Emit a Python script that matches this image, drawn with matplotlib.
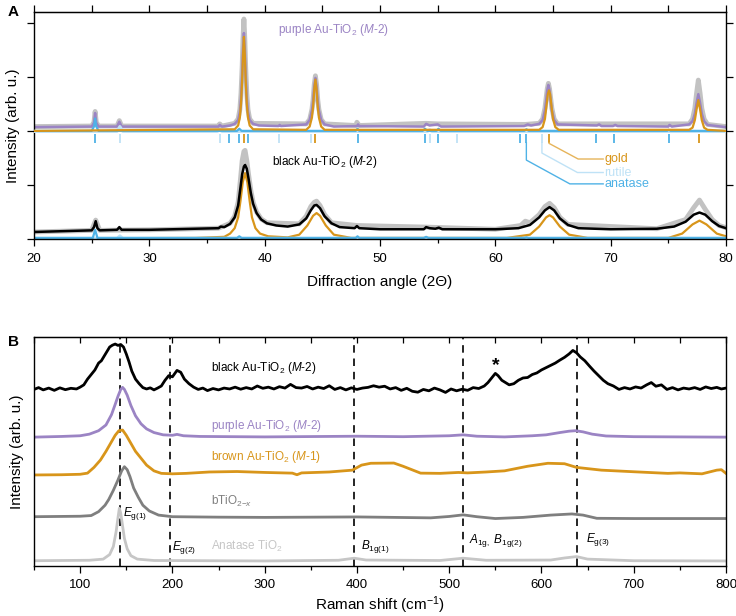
import matplotlib
matplotlib.use("Agg")
import matplotlib.pyplot as plt
from matplotlib.ticker import MultipleLocator

plt.rcParams['font.family'] = ['Liberation Sans', 'DejaVu Sans']
plt.rcParams['mathtext.fontset'] = 'custom'
plt.rcParams['mathtext.rm'] = 'Liberation Sans'
plt.rcParams['mathtext.it'] = 'Liberation Sans:italic'
plt.rcParams['mathtext.bf'] = 'Liberation Sans:bold'

# colours
C_PURPLE = '#9b84c4'
C_GOLD = '#d8951a'
C_ANA = '#4fb2e6'
C_RUT = '#bfe2f6'
C_RAW = '#c2c2c2'
C_DGRAY = '#7f7f7f'
C_LGRAY = '#c6c6c6'

# ---------------- panel A : XRD ----------------
# purple Au-TiO2 (M-2), fit
pur_x = [20, 25.0, 25.2, 25.3, 25.4, 25.6, 27.2, 27.4, 27.6, 36.0, 36.1, 36.3, 37.0,
         37.4, 37.7, 37.85, 37.95, 38.05, 38.12, 38.2, 38.28, 38.35, 38.45, 38.55, 38.7, 39.0,
         39.5, 41.2, 41.3, 41.4,
         43.6, 43.9, 44.1, 44.2, 44.3, 44.4, 44.5, 44.6, 44.7, 44.9, 45.2,
         46, 48.0, 48.1, 48.2, 53.8, 54.0, 54.3, 55.0, 55.3, 62.5, 62.8, 63.1,
         63.8, 64.1, 64.3, 64.4, 64.5, 64.6, 64.7, 64.8, 64.9, 65.1, 65.4,
         68.8, 69.0, 69.2, 70.2, 70.4, 70.6, 75.0, 75.1, 75.3,
         76.8, 77.1, 77.3, 77.45, 77.6, 77.75, 77.9, 78.1, 78.4, 80]
pur_y = [2.07, 2.08, 2.15, 2.33, 2.15, 2.08, 2.08, 2.17, 2.08, 2.08, 2.11, 2.08, 2.10,
         2.13, 2.20, 2.35, 2.60, 3.05, 3.50, 3.81, 3.50, 3.05, 2.60, 2.35, 2.20, 2.13,
         2.10, 2.09, 2.11, 2.09,
         2.12, 2.20, 2.38, 2.55, 2.82, 2.98, 2.82, 2.55, 2.38, 2.20, 2.12,
         2.08, 2.09, 2.12, 2.09, 2.08, 2.13, 2.10, 2.12, 2.08, 2.09, 2.12, 2.10,
         2.13, 2.20, 2.38, 2.55, 2.75, 2.85, 2.75, 2.55, 2.38, 2.20, 2.12,
         2.10, 2.12, 2.09, 2.09, 2.11, 2.09, 2.08, 2.11, 2.08,
         2.12, 2.18, 2.32, 2.52, 2.68, 2.52, 2.32, 2.18, 2.11, 2.07]
# purple, measured (grey band)
pur_raw_x = [20, 25.0, 25.2, 25.3, 25.4, 25.6, 27.2, 27.4, 27.6, 36.0, 36.1, 36.3,
             37.4, 37.7, 37.85, 37.95, 38.05, 38.12, 38.2, 38.28, 38.35, 38.45, 38.55, 38.7, 39.0,
             43.6, 43.9, 44.1, 44.2, 44.3, 44.4, 44.5, 44.6, 44.7, 44.9, 45.2,
             47.9, 48.0, 48.2, 54.0, 55.0, 62.6,
             63.8, 64.1, 64.3, 64.4, 64.5, 64.6, 64.7, 64.8, 64.9, 65.1, 65.4,
             76.8, 77.1, 77.3, 77.45, 77.6, 77.75, 77.9, 78.1, 78.4, 80]
pur_raw_y = [2.08, 2.09, 2.16, 2.36, 2.16, 2.09, 2.09, 2.19, 2.09, 2.09, 2.13, 2.09,
             2.14, 2.22, 2.40, 2.70, 3.20, 3.70, 4.07, 3.70, 3.20, 2.70, 2.40, 2.22, 2.14,
             2.13, 2.21, 2.40, 2.58, 2.86, 3.02, 2.86, 2.58, 2.40, 2.21, 2.13,
             2.10, 2.16, 2.10, 2.14, 2.13, 2.12,
             2.14, 2.22, 2.42, 2.60, 2.78, 2.88, 2.78, 2.60, 2.42, 2.22, 2.13,
             2.13, 2.22, 2.42, 2.70, 2.94, 2.70, 2.42, 2.22, 2.12, 2.08]
gold_top_x = [20, 37.4, 37.7, 37.85, 37.95, 38.05, 38.12, 38.2, 38.28, 38.35, 38.45, 38.55, 38.7, 39.0,
              43.6, 43.9, 44.1, 44.2, 44.3, 44.4, 44.5, 44.6, 44.7, 44.9, 45.2,
              63.8, 64.1, 64.3, 64.4, 64.55, 64.65, 64.75, 64.9, 65.0, 65.2, 65.5,
              76.8, 77.1, 77.3, 77.45, 77.6, 77.75, 77.9, 78.1, 78.4, 80]
gold_top_y = [2.0, 2.03, 2.10, 2.25, 2.50, 2.95, 3.40, 3.74, 3.40, 2.95, 2.50, 2.25, 2.10, 2.03,
              2.02, 2.08, 2.25, 2.45, 2.77, 2.95, 2.77, 2.45, 2.25, 2.08, 2.02,
              2.02, 2.07, 2.22, 2.40, 2.68, 2.75, 2.68, 2.40, 2.22, 2.07, 2.02,
              2.02, 2.06, 2.20, 2.40, 2.57, 2.40, 2.20, 2.06, 2.02, 2.0]
ana_top_x = [20, 25.0, 25.2, 25.3, 25.4, 25.6, 37.6, 37.8, 38.0, 47.9, 48.05, 48.2, 53.7, 53.9, 54.1,
             54.9, 55.07, 55.25, 62.5, 62.7, 62.9, 74.9, 75.03, 75.2, 80]
ana_top_y = [2.0, 2.0, 2.08, 2.23, 2.08, 2.0, 2.0, 2.04, 2.0, 2.0, 2.04, 2.0, 2.0, 2.04, 2.0,
             2.0, 2.04, 2.0, 2.0, 2.03, 2.0, 2.0, 2.02, 2.0, 2.0]
rut_top_x = [20, 27.2, 27.45, 27.7, 35.9, 36.09, 36.3, 54.1, 54.32, 54.5, 80]
rut_top_y = [1.99, 1.99, 2.08, 1.99, 1.99, 2.03, 1.99, 1.99, 2.02, 1.99, 1.99]

# black Au-TiO2 (M-2), fit
blk_x = [20, 25.0, 25.2, 25.35, 25.5, 25.7, 27.2, 27.4, 27.6, 30, 34, 36, 36.2, 36.5,
         37.0, 37.4, 37.7, 37.9, 38.05, 38.2, 38.3, 38.45, 38.6, 38.8, 39.0, 39.3, 39.7, 40.2,
         41, 42, 43, 43.6, 44.0, 44.3, 44.5, 44.8, 45.2, 45.8,
         46.5, 47.8, 48.0, 48.2, 50, 53.8, 54.0, 54.3, 54.8, 55.1, 55.4, 60, 62, 63.0, 63.8, 64.3, 64.7,
         65.1, 65.6, 66.3, 67.2, 70, 74, 75.5, 76.5, 77.2, 77.7, 78.2, 78.8, 79.4, 80]
blk_y = [0.13, 0.16, 0.22, 0.33, 0.20, 0.16, 0.17, 0.22, 0.17, 0.17, 0.19, 0.20, 0.23, 0.22,
         0.28, 0.40, 0.62, 0.95, 1.20, 1.34, 1.37, 1.30, 1.12, 0.85, 0.65, 0.48, 0.36, 0.29,
         0.25, 0.23, 0.27, 0.38, 0.53, 0.62, 0.63, 0.57, 0.42, 0.29,
         0.22, 0.20, 0.24, 0.20, 0.18, 0.18, 0.22, 0.20, 0.19, 0.21, 0.18, 0.18, 0.20, 0.26, 0.40, 0.53, 0.59,
         0.53, 0.38, 0.26, 0.20, 0.18, 0.19, 0.23, 0.32, 0.45, 0.49, 0.45, 0.33, 0.24, 0.20]
blk_raw_x = [20, 25.0, 25.35, 25.7, 30, 36, 37.0, 37.4, 37.7, 37.9, 38.05, 38.2, 38.3, 38.45, 38.6,
             38.8, 39.0, 39.3, 39.7, 40.2,
             43, 43.6, 44.0, 44.3, 44.5, 44.8, 45.2, 45.8, 48.0, 54.0, 60, 62.2, 62.6, 63.0, 63.8,
             64.3, 64.7, 65.1, 65.6, 66.3, 74, 76.5, 77.2, 77.7, 78.2, 78.8, 79.4, 80]
blk_raw_y = [0.13, 0.16, 0.35, 0.16, 0.17, 0.20, 0.29, 0.42, 0.68, 1.10, 1.45, 1.62, 1.64, 1.45, 1.20,
             0.90, 0.68, 0.50, 0.37, 0.30,
             0.28, 0.42, 0.60, 0.68, 0.70, 0.62, 0.45, 0.30, 0.25, 0.22, 0.18, 0.25, 0.33, 0.30, 0.45,
             0.60, 0.66, 0.58, 0.40, 0.27, 0.19, 0.36, 0.58, 0.72, 0.55, 0.36, 0.25, 0.21]
gold_bot_x = [20, 34, 36.5, 37.0, 37.4, 37.7, 37.9, 38.1, 38.3, 38.5, 38.7, 38.9, 39.2, 39.6, 40.3,
              42, 43.0, 43.7, 44.2, 44.5,
              44.8, 45.3, 46.0, 47.5, 61, 63.0, 63.8, 64.4, 64.7, 65.0, 65.6, 66.4, 68, 75, 76.2,
              77.1, 77.7, 78.3, 79.2, 80]
gold_bot_y = [0.01, 0.02, 0.04, 0.10, 0.20, 0.40, 0.70, 1.05, 1.22, 1.05, 0.70, 0.40, 0.20, 0.10, 0.05,
              0.03, 0.08, 0.25, 0.43, 0.48,
              0.43, 0.25, 0.08, 0.02, 0.02, 0.08, 0.23, 0.40, 0.44, 0.40, 0.23, 0.08, 0.02, 0.02, 0.10,
              0.27, 0.34, 0.27, 0.10, 0.05]
ana_bot_x = [20, 25.1, 25.3, 25.5, 37.6, 37.8, 38.0, 47.9, 48.05, 48.2, 53.8, 54.0, 54.2, 62.5, 62.7,
             62.9, 80]
ana_bot_y = [0.02, 0.02, 0.17, 0.02, 0.02, 0.05, 0.02, 0.02, 0.05, 0.02, 0.02, 0.04, 0.02, 0.02, 0.03,
             0.02, 0.02]
rut_bot_x = [20, 27.2, 27.45, 27.7, 80]
rut_bot_y = [0.015, 0.015, 0.06, 0.015, 0.015]

# reference reflection positions (2Theta)
anatase_pos = [25.3, 36.95, 37.8, 38.57, 48.05, 53.9, 55.07, 62.12, 62.69, 68.76, 70.3, 75.03]
rutile_pos = [27.45, 36.09, 41.23, 44.05, 54.32, 56.64, 64.04]
gold_pos = [38.2, 44.4, 64.65, 77.7]

# ---------------- panel B : Raman ----------------
rb_x = [50, 55, 60, 66, 72, 78, 84, 90, 96, 100, 104, 108, 112, 116, 120, 123, 126, 129, 132, 135, 138,
        141, 144, 147, 150, 153, 156, 160, 164, 168, 172, 176, 180, 184, 188, 192, 196, 200, 205, 209, 213,
        218, 223, 228, 233, 238, 244, 250, 256, 262, 268, 274, 280, 286, 292, 298, 304, 310, 316, 322, 328,
        334, 340, 346, 352, 358, 364, 370, 376, 382, 388, 394, 400, 406, 412, 418, 424, 430, 436, 442, 448,
        454, 460, 466, 472, 478, 484, 490, 496, 502, 508, 514, 520, 526, 532, 538, 542, 546, 550, 553, 557,
        561, 565, 570, 575, 580, 585, 590, 595, 600, 605, 610, 615, 620, 625, 630, 634, 638, 642, 647, 652,
        657, 662, 667, 672, 678, 684, 690, 696, 702, 708, 714, 719, 724, 730, 736, 742, 748, 754, 760, 766,
        772, 778, 784, 790, 795, 800]
rb_y = [0.770, 0.778, 0.768, 0.776, 0.766, 0.777, 0.769, 0.775, 0.772, 0.780, 0.790, 0.815, 0.835, 0.855,
        0.885, 0.895, 0.915, 0.935, 0.955, 0.963, 0.968, 0.962, 0.966, 0.955, 0.925, 0.890, 0.850, 0.815,
        0.795, 0.778, 0.772, 0.777, 0.768, 0.776, 0.785, 0.810, 0.830, 0.825, 0.853, 0.845, 0.815, 0.795,
        0.780, 0.770, 0.776, 0.765, 0.774, 0.768, 0.776, 0.772, 0.780, 0.771, 0.778, 0.772, 0.785, 0.775,
        0.780, 0.772, 0.782, 0.776, 0.792, 0.778, 0.776, 0.783, 0.772, 0.780, 0.774, 0.786, 0.770, 0.778,
        0.768, 0.777, 0.770, 0.776, 0.779, 0.786, 0.780, 0.784, 0.772, 0.778, 0.766, 0.775, 0.762, 0.758,
        0.770, 0.764, 0.776, 0.768, 0.757, 0.772, 0.764, 0.771, 0.766, 0.778, 0.774, 0.785, 0.800, 0.820,
        0.840, 0.830, 0.810, 0.800, 0.790, 0.795, 0.810, 0.820, 0.822, 0.835, 0.842, 0.855, 0.865, 0.875,
        0.885, 0.898, 0.910, 0.925, 0.940, 0.930, 0.912, 0.895, 0.872, 0.850, 0.830, 0.810, 0.795, 0.785,
        0.770, 0.778, 0.772, 0.781, 0.776, 0.790, 0.800, 0.784, 0.790, 0.770, 0.778, 0.768, 0.776, 0.772,
        0.778, 0.770, 0.781, 0.774, 0.779, 0.772, 0.776]
rp_x = [50, 80, 100, 110, 120, 128, 134, 138, 141, 144, 146, 148, 151, 155, 160, 166, 172, 180, 190, 200,
        205, 212, 230, 300, 400, 450, 500, 515, 530, 560, 590, 605, 620, 630, 637, 645, 655, 670, 700, 800]
rp_y = [0.562, 0.565, 0.568, 0.575, 0.590, 0.615, 0.660, 0.705, 0.740, 0.770, 0.779, 0.770, 0.745, 0.700,
        0.655, 0.620, 0.598, 0.582, 0.572, 0.570, 0.574, 0.568, 0.565, 0.563, 0.566, 0.564, 0.568, 0.572,
        0.566, 0.563, 0.568, 0.572, 0.582, 0.588, 0.590, 0.585, 0.575, 0.567, 0.564, 0.562]
rn_x = [50, 80, 100, 108, 115, 122, 128, 133, 138, 142, 146, 150, 155, 160, 166, 172, 180, 188, 200, 215,
        240, 270, 300, 330, 335, 340, 370, 395, 405, 415, 440, 450, 469, 490, 510, 520, 540, 560, 585, 607,
        625, 638, 665, 700, 737, 750, 774, 790, 795, 800]
rn_y = [0.397, 0.398, 0.400, 0.405, 0.430, 0.462, 0.500, 0.535, 0.570, 0.590, 0.593, 0.570, 0.535, 0.500,
        0.470, 0.440, 0.415, 0.404, 0.402, 0.404, 0.410, 0.412, 0.408, 0.405, 0.398, 0.406, 0.410, 0.418,
        0.440, 0.448, 0.449, 0.435, 0.405, 0.404, 0.408, 0.406, 0.410, 0.415, 0.435, 0.448, 0.446, 0.430,
        0.418, 0.411, 0.404, 0.406, 0.402, 0.418, 0.420, 0.404]
rg_x = [50, 100, 112, 120, 127, 131, 136, 141, 145, 148, 151, 154, 158, 163, 168, 175, 185, 200, 250, 300,
        400, 480, 500, 515, 530, 550, 580, 610, 633, 645, 660, 700, 800]
rg_y = [0.215, 0.217, 0.220, 0.237, 0.265, 0.290, 0.330, 0.375, 0.415, 0.433, 0.420, 0.390, 0.340, 0.300,
        0.265, 0.240, 0.222, 0.215, 0.213, 0.212, 0.214, 0.210, 0.216, 0.223, 0.215, 0.207, 0.212, 0.222,
        0.227, 0.222, 0.208, 0.207, 0.207]
ra_x = [50, 110, 125, 132, 136, 139, 141, 142.5, 144, 146, 148, 151, 155, 162, 180, 300, 380, 397, 410,
        490, 515, 540, 610, 625, 638, 650, 700, 800]
ra_y = [0.023, 0.025, 0.030, 0.050, 0.085, 0.150, 0.210, 0.252, 0.230, 0.175, 0.120, 0.075, 0.045, 0.030,
        0.024, 0.022, 0.025, 0.034, 0.026, 0.024, 0.034, 0.025, 0.026, 0.035, 0.041, 0.030, 0.023, 0.022]
mode_pos = [143, 197, 397, 515, 639]

fig = plt.figure(figsize=(7.36, 6.16), dpi=100)
axA = fig.add_axes([34 / 736, 1 - 239 / 616, 692 / 736, 227 / 616])
axB = fig.add_axes([34 / 736, 1 - 566 / 616, 692 / 736, 229.3 / 616])

# --- A ---
axA.plot(pur_raw_x, pur_raw_y, color=C_RAW, lw=3.5, solid_joinstyle='round', zorder=1)
axA.plot(blk_raw_x, blk_raw_y, color=C_RAW, lw=3.5, solid_joinstyle='round', zorder=1)
axA.plot(pur_x, pur_y, color=C_PURPLE, lw=1.8, zorder=2)
axA.plot(rut_top_x, rut_top_y, color=C_RUT, lw=2.2, zorder=3)
axA.plot(ana_top_x, ana_top_y, color=C_ANA, lw=1.6, zorder=3)
axA.plot(gold_top_x, gold_top_y, color=C_GOLD, lw=1.6, zorder=4)
axA.plot(gold_bot_x, gold_bot_y, color=C_GOLD, lw=1.6, zorder=2)
axA.plot(rut_bot_x, rut_bot_y, color=C_RUT, lw=2.0, zorder=2)
axA.plot(ana_bot_x, ana_bot_y, color=C_ANA, lw=1.6, zorder=2)
axA.plot(blk_x, blk_y, color='black', lw=1.8, zorder=5)

axA.vlines(anatase_pos, 1.78, 1.95, color=C_ANA, lw=1.3)
axA.vlines(rutile_pos, 1.78, 1.95, color=C_RUT, lw=1.3)
axA.vlines(gold_pos, 1.78, 1.95, color=C_GOLD, lw=1.3)

# leader lines to the reference labels
axA.plot([64.65, 64.65, 67.18, 69.35], [1.78, 1.77, 1.48, 1.48], color='#e6b45a', lw=1.0)
axA.plot([64.04, 64.04, 67.12, 69.35], [1.78, 1.59, 1.23, 1.23], color=C_RUT, lw=1.0)
axA.plot([62.69, 62.69, 66.46, 69.35], [1.78, 1.46, 1.02, 1.02], color=C_ANA, lw=1.0)
axA.text(69.45, 1.48, 'gold', color=C_GOLD, fontsize=9, va='center')
axA.text(69.45, 1.23, 'rutile', color=C_RUT, fontsize=9, va='center')
axA.text(69.45, 1.02, 'anatase', color=C_ANA, fontsize=9, va='center')

axA.text(41.19, 3.87, r'purple Au-TiO$_2$ ($M$-2)', color=C_PURPLE, fontsize=8.5, va='center')
axA.text(40.6, 1.43, r'black Au-TiO$_2$ ($M$-2)', color='black', fontsize=8.5, va='center')

axA.set_xlim(20, 80)
axA.set_ylim(0, 4.2)
axA.xaxis.set_major_locator(MultipleLocator(10))
axA.xaxis.set_minor_locator(MultipleLocator(5))
axA.yaxis.set_major_locator(MultipleLocator(1))
axA.tick_params(axis='x', which='major', direction='out', length=5, width=0.9, labelsize=9.5, pad=5)
axA.tick_params(axis='x', which='minor', direction='out', length=3, width=0.9)
axA.tick_params(axis='y', which='major', direction='out', length=5, width=0.9, left=True, right=True,
                labelleft=False)
topA = axA.secondary_xaxis('top')
topA.xaxis.set_major_locator(MultipleLocator(5))
topA.tick_params(direction='out', length=5, width=0.9, labeltop=False)
axA.set_xlabel('Diffraction angle (2\u0398)', fontsize=11, labelpad=7)
axA.set_ylabel('Intensity (arb. u.)', fontsize=11, labelpad=5)
fig.text(8 / 736, 1 - 12 / 616, 'A', fontsize=11, fontweight='bold', va='center')

# --- B ---
for p in mode_pos:
    axB.axvline(p, color='black', lw=1.2, ls=(0, (4.5, 3.5)), zorder=1)
axB.plot(ra_x, ra_y, color=C_LGRAY, lw=2.0, zorder=2)
axB.plot(rg_x, rg_y, color=C_DGRAY, lw=2.0, zorder=2)
axB.plot(rn_x, rn_y, color=C_GOLD, lw=2.0, zorder=2)
axB.plot(rp_x, rp_y, color=C_PURPLE, lw=2.0, zorder=2)
axB.plot(rb_x, rb_y, color='black', lw=2.0, zorder=3)

axB.text(242, 0.862, r'black Au-TiO$_2$ ($M$-2)', color='black', fontsize=8.5, va='center')
axB.text(242, 0.610, r'purple Au-TiO$_2$ ($M$-2)', color=C_PURPLE, fontsize=8.5, va='center')
axB.text(242, 0.477, r'brown Au-TiO$_2$ ($M$-1)', color=C_GOLD, fontsize=8.5, va='center')
axB.text(242, 0.280, r'bTiO$_{2\mathrm{-}x}$', color=C_DGRAY, fontsize=8.5, va='center')
axB.text(242, 0.084, r'Anatase TiO$_2$', color=C_LGRAY, fontsize=8.5, va='center')

axB.text(146, 0.227, r'$E_{\mathrm{g(1)}}$', fontsize=8.5, va='center')
axB.text(199.5, 0.082, r'$E_{\mathrm{g(2)}}$', fontsize=8.5, va='center')
axB.text(404, 0.085, r'$B_{\mathrm{1g(1)}}$', fontsize=8.5, va='center')
axB.text(522, 0.110, r'$A_{\mathrm{1g,}}\ B_{\mathrm{1g(2)}}$', fontsize=8.5, va='center')
axB.text(648, 0.115, r'$E_{\mathrm{g(3)}}$', fontsize=8.5, va='center')
axB.text(550, 0.875, '*', fontsize=14, fontweight='bold', ha='center', va='center')

axB.set_xlim(50, 800)
axB.set_ylim(0, 1)
axB.xaxis.set_major_locator(MultipleLocator(100))
axB.xaxis.set_minor_locator(MultipleLocator(50))
axB.tick_params(axis='x', which='major', direction='out', length=5, width=0.9, labelsize=9.5, pad=4)
axB.tick_params(axis='x', which='minor', direction='out', length=3, width=0.9)
axB.set_yticks([])
topB = axB.secondary_xaxis('top')
topB.xaxis.set_major_locator(MultipleLocator(50))
topB.tick_params(direction='in', length=4, width=0.9, labeltop=False)
axB.set_xlabel('Raman shift (cm$^{-1}$)', fontsize=11, labelpad=3)
axB.set_ylabel('Intensity (arb. u.)', fontsize=11, labelpad=7)
fig.text(8 / 736, 1 - 342 / 616, 'B', fontsize=11, fontweight='bold', va='center')

for ax in (axA, axB):
    for s in ax.spines.values():
        s.set_linewidth(1.0)

fig.savefig('out.png', dpi=100)
